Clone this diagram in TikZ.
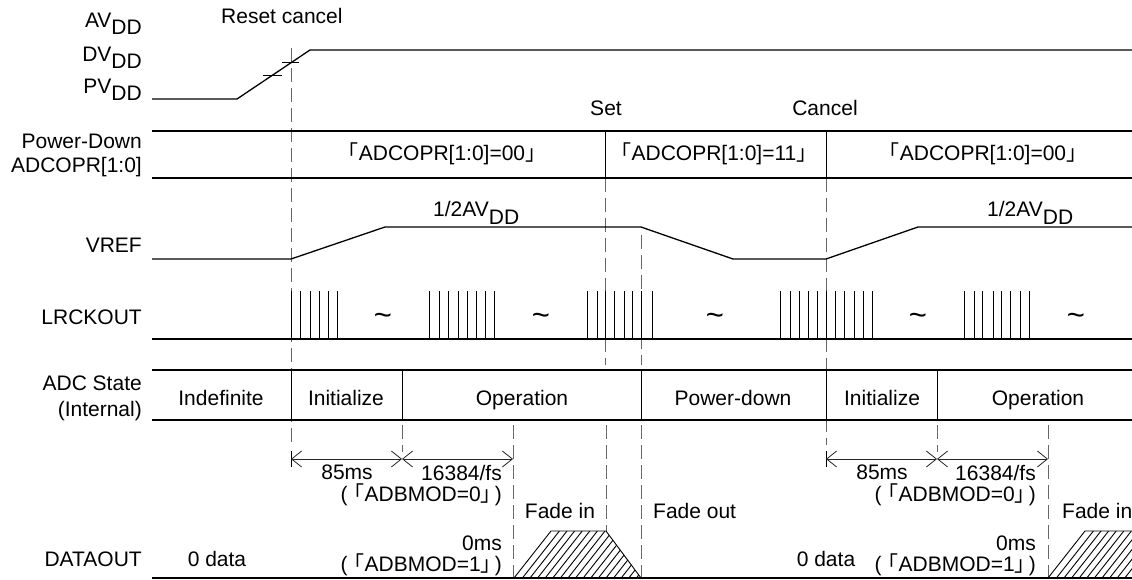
\documentclass[tikz,border=0pt]{standalone}
\usepackage{fontspec}
\setmainfont{Liberation Sans}
\newfontfamily\cjkfont{Noto Sans CJK JP}
\usetikzlibrary{arrows.meta}
\newcommand\lbr{\smash{\cjkfont 「}}
\newcommand\rbr{\smash{\cjkfont 」}}
\newcommand\subDD{\raisebox{-7pt}{DD}}
\begin{document}
\begin{tikzpicture}[x=1pt,y=-1pt,
  font=\fontsize{21}{24}\selectfont,
  sig/.style={line width=1.3pt},
  thinline/.style={line width=0.9pt},
  guide/.style={line width=1pt, black!60, dash pattern=on 14pt off 6pt},
  lbl/.style={anchor=base east, inner sep=0pt},
  txt/.style={anchor=base, inner sep=0pt},
  txtl/.style={anchor=base west, inner sep=0pt},
  txtr/.style={anchor=base east, inner sep=0pt},
  dim/.style={line width=0.8pt, black!85, {Straight Barb[length=10pt,width=16pt]}-{Straight Barb[length=10pt,width=16pt]}},
  tildemark/.style={inner sep=0pt, font=\fontsize{31}{31}\selectfont},
  pulse/.style={line width=0.9pt}
]
\useasboundingbox (0,0) rectangle (1132,580);

% ---- left labels ----
\node[lbl] (avdd) at (142,28) {AV\subDD};
\node[lbl] (dvdd) at (142,62) {DV\subDD};
\node[lbl] (pvdd) at (142,94) {PV\subDD};
\node[lbl] (pdl1) at (142,149) {Power-Down};
\node[lbl] (pdl2) at (142,173) {ADCOPR[1:0]};
\node[lbl] (vrefl) at (142,252) {VREF};
\node[lbl] (lrckl) at (142,324) {LRCKOUT};
\node[lbl] (adcl1) at (142,390) {ADC State};
\node[lbl] (adcl2) at (142,416) {(Internal)};
\node[lbl] (datal) at (142,566) {DATAOUT};

% ---- event labels ----
\node[txtl] (reset) at (221,24) {Reset cancel};
\node[txt] (set) at (606,116) {Set};
\node[txt] (cancel) at (825,116) {Cancel};

% ---- guides (dashed) ----
\draw[guide] (291,48) -- (291,445);
\draw[guide] (605,178) -- (605,365);
\draw[guide] (606,425) -- (606,531);
\draw[guide] (641,235) -- (641,365);
\draw[guide] (641,425) -- (641,578);
\draw[guide] (826,178) -- (826,445);
\draw[guide] (402,425) -- (402,452);
\draw[guide] (513,425) -- (513,578);
\draw[guide] (937,425) -- (937,452);
\draw[guide] (1048,425) -- (1048,578);

% ---- power supply ----
\draw[sig] (152,99) -- (237,99) -- (310,50) -- (1132,50);
\draw[thinline] (282,62) -- (299,62);
\draw[thinline] (263,75) -- (282,75);

% ---- power-down register ----
\draw[sig] (152,131) -- (1132,131);
\draw[sig] (152,178) -- (1132,178);
\draw[thinline] (605,131) -- (605,178);
\draw[thinline] (826,131) -- (826,178);
\node[txt] (op1) at (442,161) {\lbr ADCOPR[1:0]=00\rbr};
\node[txt] (op2) at (714,161) {\lbr ADCOPR[1:0]=11\rbr};
\node[txt] (op3) at (983,161) {\lbr ADCOPR[1:0]=00\rbr};

% ---- VREF ----
\draw[sig] (152,259) -- (291,259) -- (385,227) -- (641,227) -- (733,259) -- (826,259) -- (918,227) -- (1132,227);
\node[txtl] (half1) at (433,217) {1/2AV\subDD};
\node[txtl] (half2) at (987,217) {1/2AV\subDD};

% ---- LRCKOUT ----
\draw[sig] (152,339) -- (1132,339);
\foreach \x in {291,300,310,319,328,337,
                429,439,448,458,467,476,485,494,
                587,597,605,614,624,632,641,652,
                780,790,799,808,817,826,835,844,854,863,872,
                964,974,982,993,1001,1010,1020,1029}
  \draw[pulse] (\x,339) -- (\x,291);
\node[tildemark] (tl1) at (383,319) {\char"7E};
\node[tildemark] (tl2) at (541,319) {\char"7E};
\node[tildemark] (tl3) at (715,319) {\char"7E};
\node[tildemark] (tl4) at (918,319) {\char"7E};
\node[tildemark] (tl5) at (1076,319) {\char"7E};

% ---- ADC state ----
\draw[sig] (152,370) -- (1132,370);
\draw[sig] (152,420) -- (1132,420);
\foreach \x in {291,402,641,826,937}
  \draw[thinline] (\x,370) -- (\x,420);
\node[txt] (st1) at (221,405) {Indefinite};
\node[txt] (st2) at (346,405) {Initialize};
\node[txt] (st3) at (522,405) {Operation};
\node[txt] (st4) at (733,405) {Power-down};
\node[txt] (st5) at (882,405) {Initialize};
\node[txt] (st6) at (1038,405) {Operation};

% ---- timing dimensions ----
\draw[thinline] (291,451) -- (291,467);
\draw[thinline] (826,451) -- (826,467);
\draw[dim] (291,459) -- (402,459);
\draw[dim] (402,459) -- (513,459);
\draw[dim] (826,459) -- (937,459);
\draw[dim] (937,459) -- (1048,459);

\node[txt] (t85a) at (347,479) {85ms};
\node[txtr] (t16a) at (502,480) {16384/fs};
\node[txtr] (tb0a) at (502,501) {(\kern-4pt\lbr ADBMOD=0\rbr\kern-7pt)};
\node[txtr] (t0a) at (502,550) {0ms};
\node[txtr] (tb1a) at (502,571) {(\kern-4pt\lbr ADBMOD=1\rbr\kern-7pt)};

\node[txt] (t85b) at (882,479) {85ms};
\node[txtr] (t16b) at (1036,480) {16384/fs};
\node[txtr] (tb0b) at (1036,501) {(\kern-4pt\lbr ADBMOD=0\rbr\kern-7pt)};
\node[txtr] (t0b) at (1036,550) {0ms};
\node[txtr] (tb1b) at (1036,571) {(\kern-4pt\lbr ADBMOD=1\rbr\kern-7pt)};

\node[txt] (fin1) at (560,518) {Fade in};
\node[txtl] (fout) at (653,518) {Fade out};
\node[txtl] (fin2) at (1062,518) {Fade in};

% ---- DATAOUT ----
\node[txt] (zd1) at (217,566) {0 data};
\node[txt] (zd2) at (826,566) {0 data};
\draw[sig] (152,578) -- (1132,578);
\draw[thinline] (514,578) -- (551,531) -- (606,531) -- (641,578);
\begin{scope}
  \clip (514,578) -- (551,531) -- (606,531) -- (641,578) -- cycle;
  \foreach \x in {521.6,529.2,...,660}
    \draw[thinline] (\x,579) -- ++(37.8,-48);
\end{scope}
\draw[thinline] (1048,578) -- (1085,531) -- (1132,531);
\begin{scope}
  \clip (1048,578) -- (1085,531) -- (1140,531) -- (1140,578) -- cycle;
  \foreach \x in {1055.6,1063.2,...,1140}
    \draw[thinline] (\x,579) -- ++(37.8,-48);
\end{scope}
\end{tikzpicture}
\end{document}
